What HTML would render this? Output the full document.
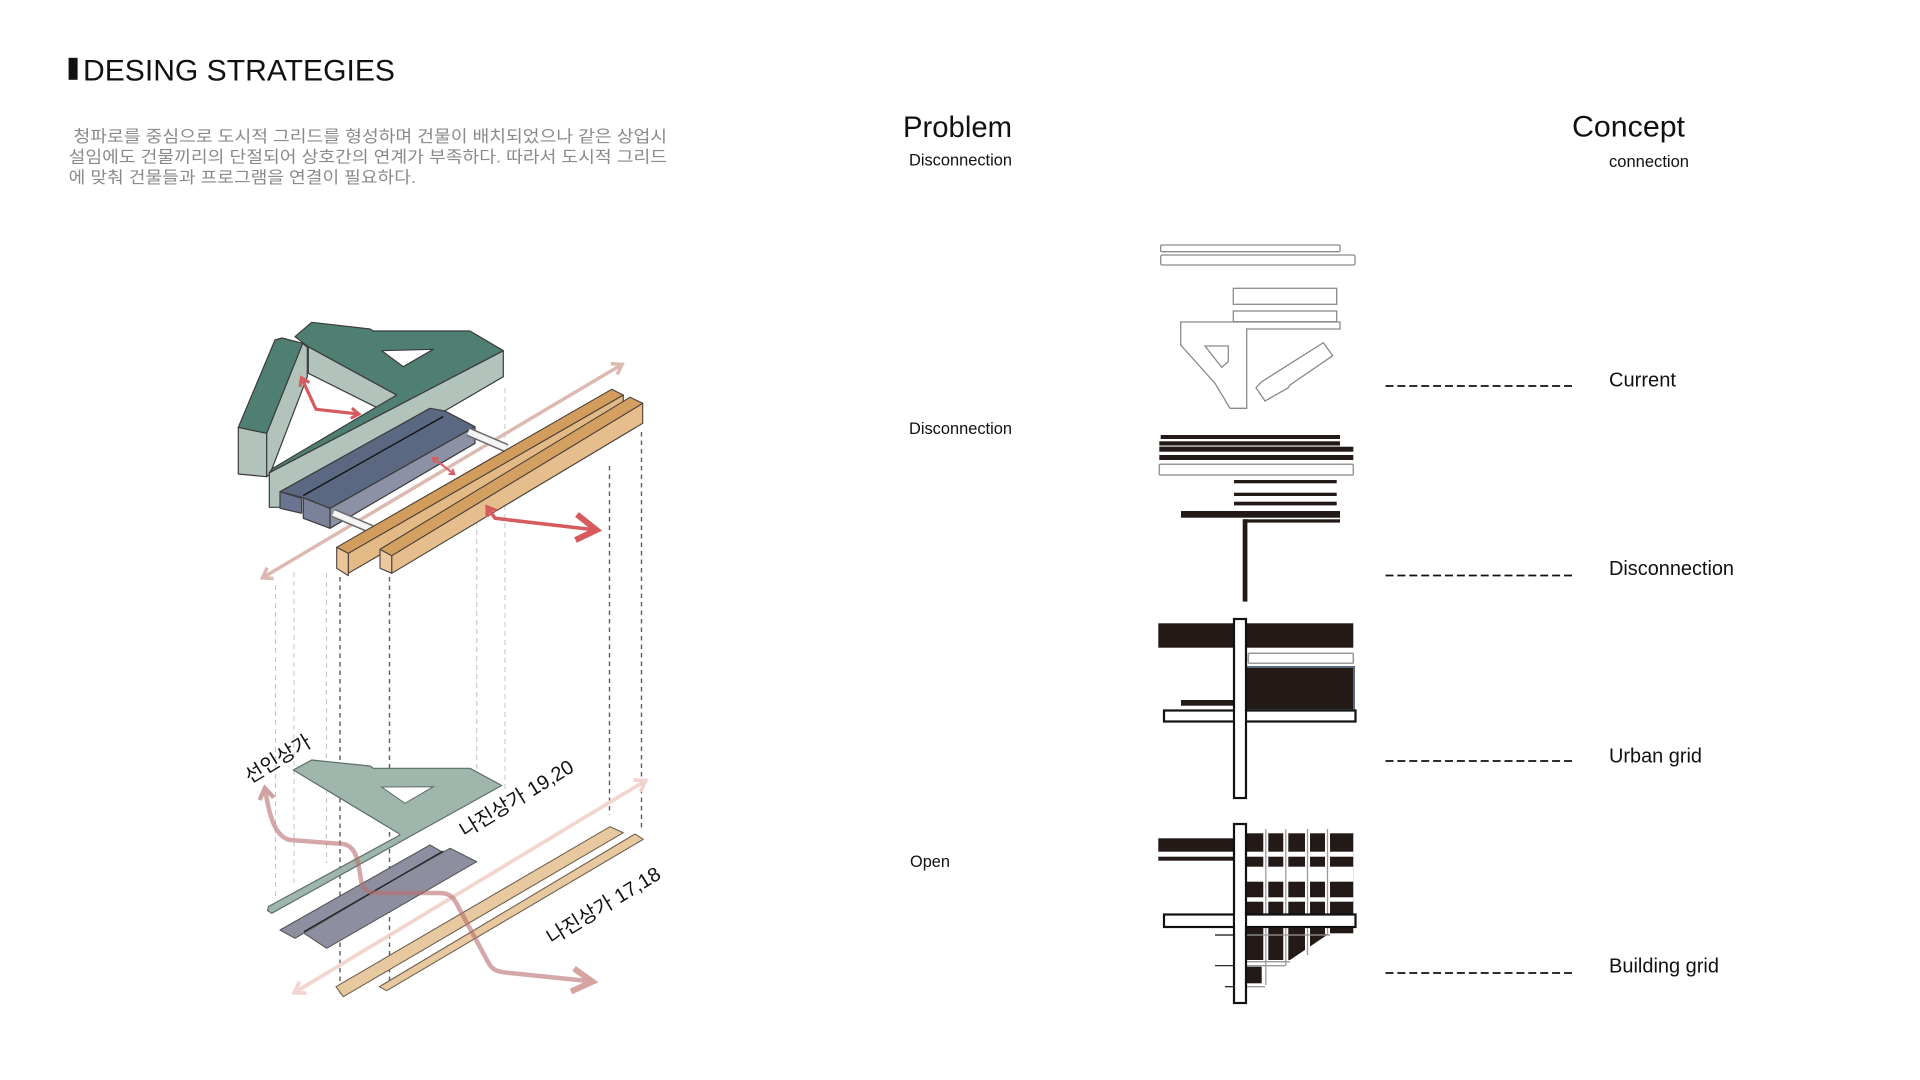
<!DOCTYPE html>
<html><head><meta charset="utf-8"><style>
html,body{margin:0;padding:0;background:#fff;}
svg{display:block;}
</style></head><body>
<svg xmlns="http://www.w3.org/2000/svg" width="1920" height="1080" viewBox="0 0 1920 1080">
<defs>
<marker id="mPink" viewBox="0 0 10 10" refX="7" refY="5" markerWidth="4.5" markerHeight="4.5" orient="auto-start-reverse"><path d="M1.5,1 L7.5,5 L1.5,9" fill="none" stroke="#dcbab2" stroke-width="2.2"/></marker>
<marker id="mPinkL" viewBox="0 0 10 10" refX="7" refY="5" markerWidth="4.5" markerHeight="4.5" orient="auto-start-reverse"><path d="M1.5,1 L7.5,5 L1.5,9" fill="none" stroke="#f2d3cc" stroke-width="2.2"/></marker>
<marker id="mRed" viewBox="0 0 10 10" refX="7" refY="5" markerWidth="4" markerHeight="4" orient="auto-start-reverse"><path d="M1.5,1 L7.5,5 L1.5,9" fill="none" stroke="#d65a5e" stroke-width="2.4"/></marker>
<marker id="mWind" viewBox="0 0 10 10" refX="7" refY="5" markerWidth="4" markerHeight="4" orient="auto-start-reverse"><path d="M1.5,1 L7.5,5 L1.5,9" fill="none" stroke="#d1a0a0" stroke-width="2.4"/></marker>
</defs>

<!-- Title -->
<rect x="68.6" y="57.8" width="9" height="22" fill="#111"/>
<text x="83" y="80.4" font-family="Liberation Sans, Arial, sans-serif" font-size="30" fill="#111" textLength="312" lengthAdjust="spacingAndGlyphs">DESING STRATEGIES</text>

<!-- Paragraph -->
<g font-family="Liberation Sans, 'Noto Sans CJK KR', sans-serif" font-size="16.5" fill="#8a8a8a">
<text x="73.5" y="142.2" textLength="593.5" lengthAdjust="spacingAndGlyphs">청파로를 중심으로 도시적 그리드를 형성하며 건물이 배치되었으나 같은 상업시</text>
<text x="68.6" y="162.7" textLength="598.4" lengthAdjust="spacingAndGlyphs">설임에도 건물끼리의 단절되어 상호간의 연계가 부족하다. 따라서 도시적 그리드</text>
<text x="68.6" y="183.2" textLength="347.4" lengthAdjust="spacingAndGlyphs">에 맞춰 건물들과 프로그램을 연결이 필요하다.</text>
</g>

<!-- Headings / labels -->
<g font-family="Liberation Sans, Arial, sans-serif" fill="#111">
<text x="903" y="137" font-size="30" textLength="109" lengthAdjust="spacingAndGlyphs">Problem</text>
<text x="1572" y="136.5" font-size="30" textLength="113" lengthAdjust="spacingAndGlyphs">Concept</text>
<text x="909" y="165.5" font-size="16.5" textLength="103" lengthAdjust="spacingAndGlyphs">Disconnection</text>
<text x="1609" y="167" font-size="16.5" textLength="80" lengthAdjust="spacingAndGlyphs">connection</text>
<text x="909" y="434" font-size="16.5" textLength="103" lengthAdjust="spacingAndGlyphs">Disconnection</text>
<text x="910" y="867" font-size="16.5" textLength="40" lengthAdjust="spacingAndGlyphs">Open</text>
<text x="1609" y="386.5" font-size="20" textLength="67" lengthAdjust="spacingAndGlyphs">Current</text>
<text x="1609" y="575" font-size="20" textLength="125" lengthAdjust="spacingAndGlyphs">Disconnection</text>
<text x="1609" y="762.5" font-size="20" textLength="93" lengthAdjust="spacingAndGlyphs">Urban grid</text>
<text x="1609" y="972.5" font-size="20" textLength="110" lengthAdjust="spacingAndGlyphs">Building grid</text>
</g>

<!-- dashed connectors right -->
<g stroke="#111" stroke-width="1.8" stroke-dasharray="8 3.9">
<line x1="1385.5" y1="386" x2="1572" y2="386"/>
<line x1="1385.5" y1="575.5" x2="1572" y2="575.5"/>
<line x1="1385.5" y1="761" x2="1572" y2="761"/>
<line x1="1385.5" y1="973" x2="1572" y2="973"/>
</g>

<!-- Diagram 1: Current -->
<g fill="#fff" stroke="#8a8a8a" stroke-width="1.3">
<rect x="1160.7" y="245" width="179.3" height="6.7" rx="1"/>
<rect x="1160.7" y="255" width="194.3" height="10" rx="1.5"/>
<rect x="1233.3" y="288.3" width="103.4" height="16"/>
<rect x="1233.3" y="311" width="103.4" height="10.7"/>
<polygon points="1180.7,322 1340,322 1340,329 1246.7,329 1246.7,408.3 1230,408.3 1215,383.3 1180.7,345"/>
<polygon points="1205,346 1228.3,346 1228.3,361.7 1221.7,367.3"/>
<polygon points="1256,387.7 1261.7,381.7 1323.3,342.7 1332.7,355.7 1290,385 1288,388 1265,401"/>
</g>

<!-- Diagram 2: Disconnection -->
<g fill="#231916">
<rect x="1160.7" y="435" width="179.3" height="4"/>
<rect x="1159.3" y="441.3" width="180.7" height="4"/>
<rect x="1159.3" y="446.7" width="194" height="5"/>
<rect x="1159.3" y="455" width="194" height="5"/>
<rect x="1234" y="480" width="102.7" height="3.3"/>
<rect x="1234" y="492.7" width="102.7" height="3.3"/>
<rect x="1234" y="501.7" width="102.7" height="3.7"/>
<rect x="1181" y="511" width="159" height="6.7"/>
<rect x="1243.3" y="519.3" width="96.7" height="3.3"/>
<rect x="1242.7" y="519.3" width="4.7" height="82.3"/>
</g>
<line x1="1159.3" y1="445.9" x2="1340" y2="445.9" stroke="#999" stroke-width="0.8"/>
<rect x="1159.3" y="464.3" width="194" height="10.7" fill="#fff" stroke="#999" stroke-width="1.5" rx="1"/>

<!-- Diagram 3: Urban grid -->
<rect x="1158.3" y="623.3" width="195" height="24.4" fill="#231916"/>
<rect x="1248.3" y="653.3" width="105" height="10" fill="#fff" stroke="#999" stroke-width="1.5" rx="1"/>
<rect x="1245.5" y="667" width="108.5" height="43" fill="#231916" stroke="#5b6a80" stroke-width="2"/>
<rect x="1181" y="700" width="52.3" height="5.7" fill="#231916"/>
<rect x="1164" y="710.5" width="191.5" height="11" fill="#fff" stroke="#111" stroke-width="2.2"/>
<rect x="1234" y="619" width="12" height="179" fill="#fff" stroke="#111" stroke-width="2.2"/>
<rect x="1235.2" y="711.6" width="9.6" height="8.8" fill="#fff"/>

<!-- Diagram 4: Building grid -->
<rect x="1158.3" y="838.3" width="75" height="13.4" fill="#231916"/>
<rect x="1158.3" y="856.7" width="75" height="4" fill="#231916"/>
<rect x="1245" y="833.3" width="108.3" height="100" fill="#231916"/>
<polygon points="1245,927 1330,927 1330,933 1290,960 1245,960" fill="#231916"/>
<rect x="1245" y="966.7" width="16.7" height="16.6" fill="#231916"/>
<g fill="#fff">
<rect x="1245" y="851.7" width="108.3" height="5"/>
<rect x="1245" y="866.7" width="108.3" height="15"/>
<rect x="1245" y="897.3" width="108.3" height="4.4"/>
<rect x="1263.3" y="829" width="5" height="132"/>
<rect x="1283.3" y="829" width="5" height="132"/>
<rect x="1305" y="829" width="5" height="125"/>
<rect x="1325" y="829" width="5" height="105"/>
</g>
<g stroke="#9a9a9a" stroke-width="1.3" fill="none">
<line x1="1265.8" y1="829" x2="1265.8" y2="985"/>
<line x1="1285.8" y1="829" x2="1285.8" y2="966"/>
<line x1="1307.5" y1="829" x2="1307.5" y2="955"/>
<line x1="1327.5" y1="829" x2="1327.5" y2="935"/>
<line x1="1245" y1="935" x2="1330" y2="935"/>
<line x1="1245" y1="961.7" x2="1290" y2="961.7"/>
<line x1="1245" y1="965.7" x2="1285" y2="965.7"/>
<line x1="1245" y1="986.7" x2="1265" y2="986.7"/>
</g>
<g stroke="#111" stroke-width="1.2">
<line x1="1215" y1="935" x2="1233" y2="935"/>
<line x1="1215" y1="965.7" x2="1233" y2="965.7"/>
<line x1="1225" y1="986.7" x2="1233" y2="986.7"/>
</g>
<rect x="1164" y="914.5" width="191.5" height="12.5" fill="#fff" stroke="#111" stroke-width="2.2"/>
<rect x="1234" y="824" width="12" height="179" fill="#fff" stroke="#111" stroke-width="2.2"/>
<rect x="1235.2" y="915.6" width="9.6" height="10.3" fill="#fff"/>

<!-- vertical dashed projection lines -->
<g stroke="#c8c8c8" stroke-width="1.1" stroke-dasharray="5 4">
<line x1="275.5" y1="585" x2="275.5" y2="898"/>
<line x1="294" y1="572" x2="294" y2="884"/>
<line x1="326.5" y1="573" x2="326.5" y2="863"/>
<line x1="476.7" y1="512" x2="476.7" y2="777"/>
<line x1="505" y1="388" x2="505" y2="790"/>
</g>
<g stroke="#5c5c5c" stroke-width="1.4" stroke-dasharray="4.5 4">
<line x1="340" y1="577" x2="340" y2="994"/>
<line x1="389.5" y1="577" x2="389.5" y2="988"/>
<line x1="609.5" y1="466" x2="609.5" y2="815"/>
<line x1="641.5" y1="432" x2="641.5" y2="830"/>
</g>

<!-- ===== Top axonometric ===== -->
<g stroke="#3b3b3b" stroke-width="1.2" stroke-linejoin="round">
<!-- left wing -->
<polygon points="238.3,427.3 266.7,433.3 266.7,476.7 238.3,474" fill="#b2c3bc"/>
<polygon points="266.7,433.3 302.7,343.3 307.3,347.3 307.3,376.7 270,474 266.7,476.7" fill="#b2c3bc"/>
<polygon points="238.3,427.3 275,340 282,338 302.7,343.3 266.7,433.3" fill="#4f7f72"/>
<!-- main building faces -->
<polygon points="308.3,346.7 396.7,395 378.3,408.3 308.3,373.3" fill="#b2c3bc"/>
<polygon points="503.3,350.7 503.3,376.7 280,507.3 269.3,507.3 269.3,472.7" fill="#b2c3bc"/>
<polygon points="295,336.7 311.7,322.3 370,329 373.3,331 470,331 503.3,350.7 269.3,472.7 272.5,468.5 396.7,395 308.3,346.7" fill="#4f7f72"/>
<polygon points="381.7,350.7 433.3,349.3 403.3,366.7" fill="#fff"/>
</g>
<!-- red arrow 1 -->
<polyline points="301.7,378.3 316,409.3 358.3,414" fill="none" stroke="#d65a5e" stroke-width="3.2" stroke-linejoin="round" marker-start="url(#mRed)" marker-end="url(#mRed)"/>

<!-- pink long arrow top -->
<line x1="263" y1="577.5" x2="621.5" y2="364.7" stroke="#dcbab2" stroke-width="3.5" marker-start="url(#mPink)" marker-end="url(#mPink)"/>

<!-- slate block -->
<g stroke="#3b3b3b" stroke-width="1.2" stroke-linejoin="round">
<polygon points="280,491.7 301.7,498.3 301.7,513.3 280,508.3" fill="#6a7390"/>
<polygon points="330,508.3 475,426.7 475,443.3 330,528.3" fill="#8c91a5"/>
<polygon points="303.3,497.7 330,508.3 330,528.3 303.3,518.3" fill="#7a8198"/>
<polygon points="280,491.7 430,408.3 445,411 475,426.7 330,508.3 303.3,497.7" fill="#5b6882"/>
</g>
<line x1="303.3" y1="495.5" x2="443.3" y2="416.5" stroke="#111" stroke-width="1.3"/>
<!-- red arrow 2 -->
<line x1="433" y1="458" x2="454" y2="474" stroke="#d65a5e" stroke-width="2" marker-start="url(#mRed)" marker-end="url(#mRed)"/>
<!-- connectors -->
<g stroke-linecap="butt">
<line x1="468.3" y1="431.7" x2="506.7" y2="448.3" stroke="#6a6a6a" stroke-width="9"/>
<line x1="468.3" y1="431.7" x2="506.7" y2="448.3" stroke="#f4f4f4" stroke-width="6"/>
<line x1="333.3" y1="513" x2="371.7" y2="529.3" stroke="#6a6a6a" stroke-width="9"/>
<line x1="333.3" y1="513" x2="371.7" y2="529.3" stroke="#f4f4f4" stroke-width="6"/>
</g>

<!-- tan bars -->
<g stroke="#4a4038" stroke-width="1.1" stroke-linejoin="round">
<polygon points="348.3,553.3 623.3,395 623.3,413.3 348.3,573.3" fill="#e3b985"/>
<polygon points="336.7,547.3 348.3,553.3 348.3,575.7 336.7,568.3" fill="#e9c597"/>
<polygon points="336.7,547.3 611.7,389.3 623.3,395 348.3,553.3" fill="#d29c5c"/>
<polygon points="391.7,555.7 642.7,403.3 642.7,423.3 391.7,573.3" fill="#e6bd8c"/>
<polygon points="380,549.3 391.7,555.7 391.7,573.3 380,568.3" fill="#ecc99d"/>
<polygon points="380,549.3 630,397.3 642.7,403.3 391.7,555.7" fill="#d4a062"/>
</g>
<!-- red arrow 3 -->
<polyline points="487.5,507.5 495,518.3 592,529.5" fill="none" stroke="#d65a5e" stroke-width="3.5" stroke-linejoin="round" marker-start="url(#mRed)"/>
<polyline points="577,514.5 596.5,530 575.5,540" fill="none" stroke="#d65a5e" stroke-width="6" stroke-linejoin="miter"/>

<!-- ===== Lower plan ===== -->
<polygon points="293.3,770 311.7,760 370,766 373.3,768.3 470,768.3 501.7,785.5 271.7,913.3 267.5,910.5 268.5,906.5 400,835 398,833" fill="#9fb6ac" stroke="#5f6e66" stroke-width="1.2" stroke-linejoin="round"/>
<polygon points="381.7,787 433.3,786.7 405,803.3" fill="#fff" stroke="#5f6e66" stroke-width="1"/>
<polygon points="301.7,931.7 450,848.3 476.7,861.7 326.7,948.3" fill="#8d8fa0" stroke="#555" stroke-width="1.1" stroke-linejoin="round"/>
<polygon points="280,930 430,845 441.7,851.7 295,938.3" fill="#8d8fa0" stroke="#555" stroke-width="1.1" stroke-linejoin="round"/>
<line x1="304" y1="931.7" x2="443.3" y2="851" stroke="#222" stroke-width="1.3"/>
<polygon points="336,986.7 610,826.7 623.3,832.7 343.3,996.7" fill="#e8c99f" stroke="#6e6050" stroke-width="1.1" stroke-linejoin="round"/>
<polygon points="379.3,986.7 635,834 643.3,839.3 386.7,990.7" fill="#e8c99f" stroke="#6e6050" stroke-width="1.1" stroke-linejoin="round"/>

<!-- lower long light arrow -->
<line x1="295" y1="992.3" x2="645" y2="781" stroke="#f2d3cc" stroke-width="3.8" marker-start="url(#mPinkL)" marker-end="url(#mPinkL)" opacity="0.95"/>
<!-- winding path -->
<path d="M265,789 C268,806 272,836 290,840 L343,844 C356,846 358,860 361,880 C363,892 370,893 380,893 L440,893 C452,893 455,900 460,910 L488,962 C492,970 497,972 510,973 L588,981" fill="none" stroke="#b86e6e" stroke-opacity="0.6" stroke-width="4.5" stroke-linejoin="round" marker-start="url(#mWind)"/>
<polyline points="574,968.5 592.5,981.7 571,991.5" fill="none" stroke="#d5a3a0" stroke-width="6"/>

<!-- rotated labels -->
<g font-family="Liberation Sans, 'Noto Sans CJK KR', sans-serif" font-size="20" fill="#111">
<text transform="translate(250,784) rotate(-31.4)">선인상가</text>
<text transform="translate(465,838) rotate(-31.4)">나진상가 19,20</text>
<text transform="translate(552,945) rotate(-31.4)">나진상가 17,18</text>
</g>
</svg>
</body></html>
